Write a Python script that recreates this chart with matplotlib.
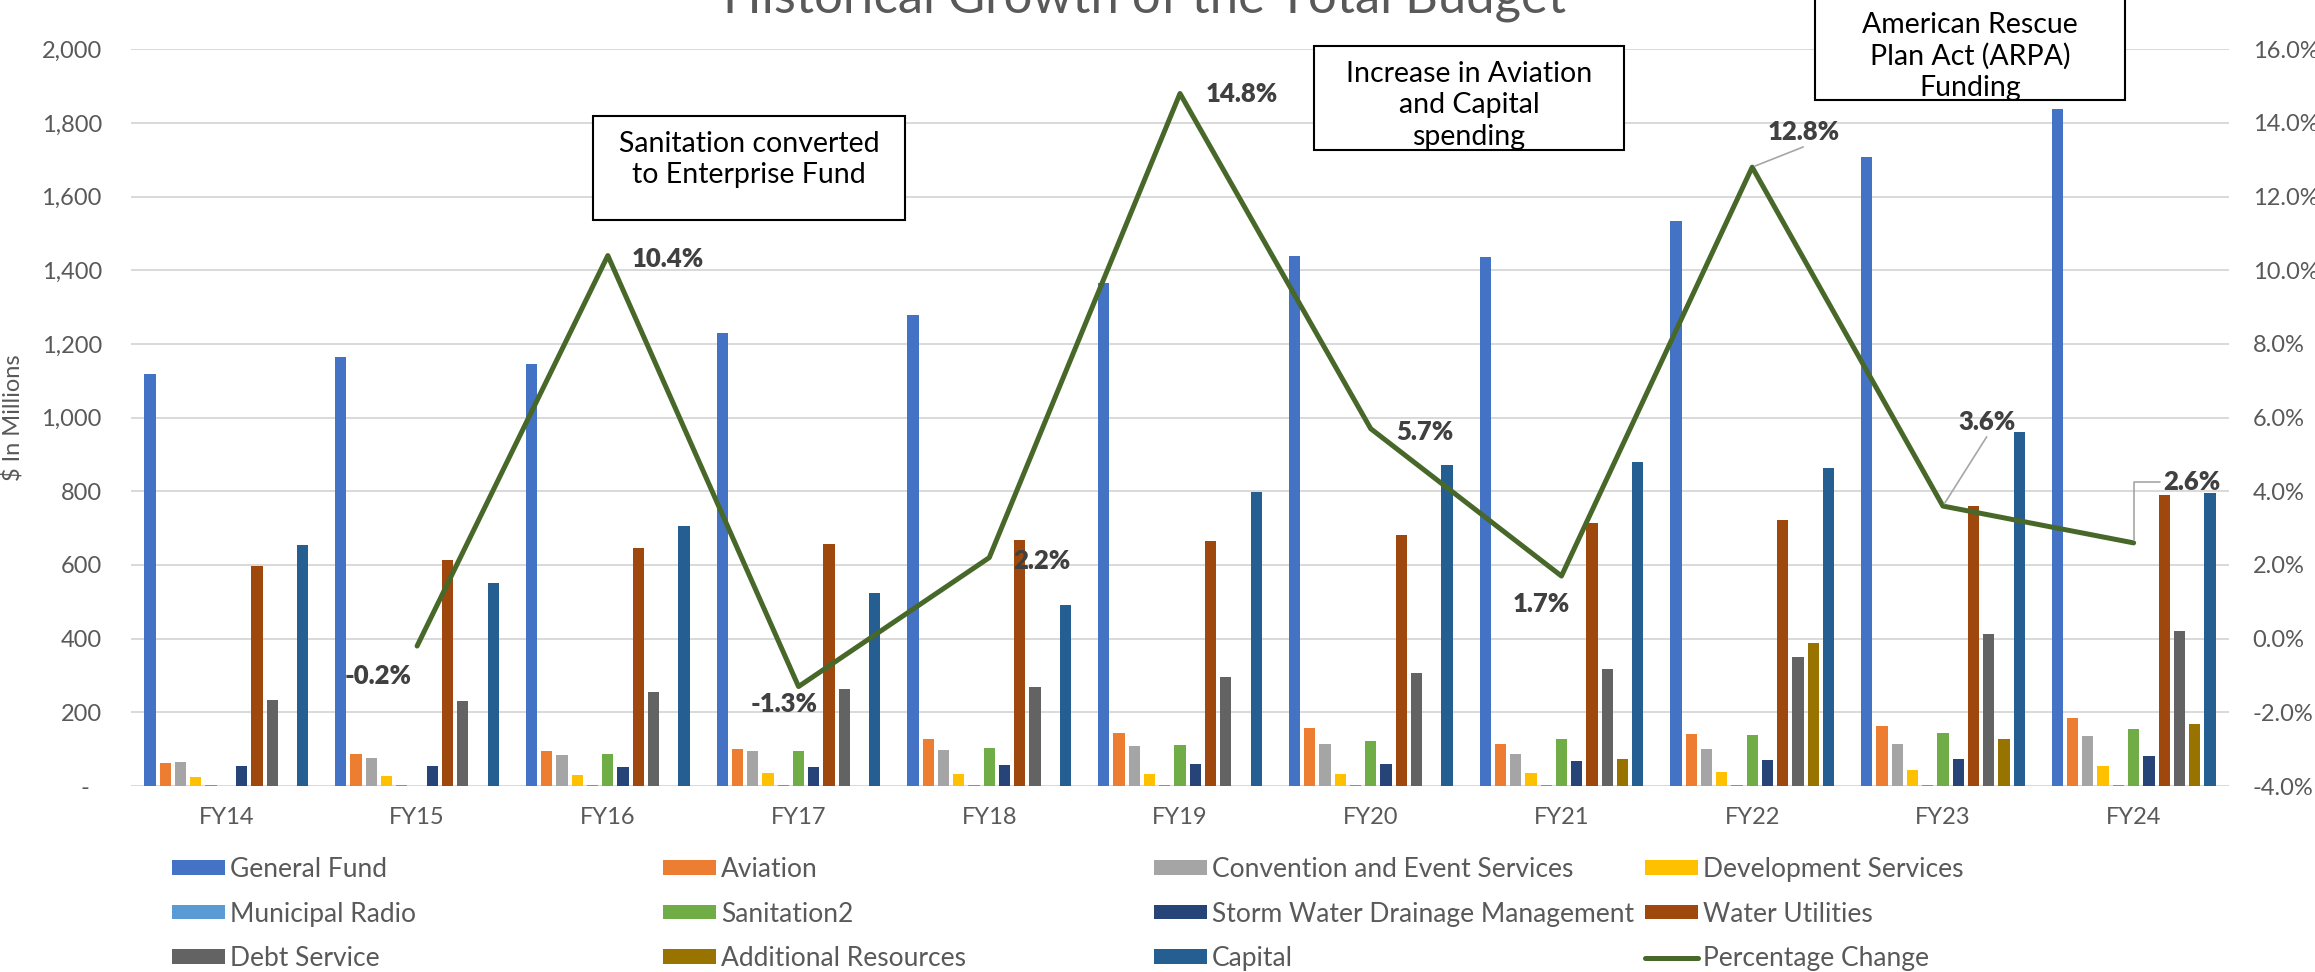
import matplotlib
matplotlib.use("Agg")
import matplotlib.pyplot as plt
from matplotlib.patches import Patch, Rectangle
from matplotlib.lines import Line2D
from matplotlib.ticker import FixedLocator, FuncFormatter

# ---- data ($ in millions) ----
years = ["FY14", "FY15", "FY16", "FY17", "FY18", "FY19", "FY20", "FY21", "FY22", "FY23", "FY24"]
general_fund = [1118, 1166, 1145, 1229, 1279, 1366, 1438, 1437, 1534, 1707, 1838]
aviation = [62, 87, 94, 100, 128, 144, 158, 113, 142, 164, 185]
convention_events = [66, 77, 83, 96, 98, 108, 115, 86, 100, 114, 137]
development_services = [25, 27, 31, 36, 33, 33, 33, 36, 39, 44, 54]
municipal_radio = [2, 2, 2, 2, 2, 2, 2, 2, 2, 2, 2]
sanitation = [0, 0, 87, 96, 102, 112, 122, 128, 139, 144, 154]
storm_water = [55, 54, 52, 52, 56, 59, 61, 67, 70, 73, 81]
water_utilities = [596, 614, 646, 657, 667, 664, 681, 714, 722, 761, 790]
debt_service = [234, 231, 255, 262, 268, 296, 306, 317, 349, 412, 422]
additional_resources = [0, 0, 0, 0, 0, 0, 0, 74, 387, 128, 167]
capital = [654, 550, 705, 525, 491, 798, 872, 880, 863, 960, 796]

pct_years = ["FY15", "FY16", "FY17", "FY18", "FY19", "FY20", "FY21", "FY22", "FY23", "FY24"]
pct_change = [-0.2, 10.4, -1.3, 2.2, 14.8, 5.7, 1.7, 12.8, 3.6, 2.6]

left_ticks = [0, 200, 400, 600, 800, 1000, 1200, 1400, 1600, 1800, 2000]
right_ticks = [-4, -2, 0, 2, 4, 6, 8, 10, 12, 14, 16]

series = [
    ("General Fund", general_fund, "#4472C4"),
    ("Aviation", aviation, "#ED7D31"),
    ("Convention and Event Services", convention_events, "#A5A5A5"),
    ("Development Services", development_services, "#FFC000"),
    ("Municipal Radio", municipal_radio, "#5B9BD5"),
    ("Sanitation2", sanitation, "#70AD47"),
    ("Storm Water Drainage Management", storm_water, "#264478"),
    ("Water Utilities", water_utilities, "#9E480E"),
    ("Debt Service", debt_service, "#636363"),
    ("Additional Resources", additional_resources, "#997300"),
    ("Capital", capital, "#255E91"),
]
LINE_COLOR = "#48682A"
TEXT_GRAY = "#595959"

plt.rcParams["font.family"] = ["Lato", "DejaVu Sans"]

W, H = 2315, 972
fig = plt.figure(figsize=(W / 100, H / 100), dpi=100)
fig.patch.set_facecolor("white")


def fx(px):
    return px / W


def fy(py):
    return 1 - py / H


ax = fig.add_axes([fx(131), fy(786), fx(2229) - fx(131), fy(49.3) - fy(786)])

# ---- clustered bars ----
x = list(range(len(years)))
slot = 1 / 12.5
bar_w = 0.059
n = len(series)
for j, (name, vals, color) in enumerate(series):
    xs = [xi + (j - (n - 1) / 2) * slot for xi in x]
    ax.bar(xs, vals, width=bar_w, color=color, zorder=2, label=name)

ax.set_xlim(-0.5, len(years) - 0.5)
ax.set_ylim(0, 2000)
ax.yaxis.set_major_locator(FixedLocator(left_ticks))
ax.yaxis.set_major_formatter(FuncFormatter(lambda v, p: "-  " if v == 0 else f"{v:,.0f}"))
ax.set_xticks(x)
ax.set_xticklabels(years)
ax.grid(axis="y", color="#D9D9D9", linewidth=1.4, zorder=0)
ax.set_axisbelow(True)
for s in ax.spines.values():
    s.set_visible(False)
ax.tick_params(axis="y", length=0, pad=21, labelsize=17, labelcolor=TEXT_GRAY)
ax.tick_params(axis="x", length=0, pad=15, labelsize=17, labelcolor=TEXT_GRAY)

# ---- percentage change line on the secondary axis ----
ax2 = ax.twinx()
pct_x = [years.index(y) for y in pct_years]
ax2.plot(pct_x, pct_change, color=LINE_COLOR, linewidth=3.6, zorder=5,
         solid_joinstyle="round", solid_capstyle="round")
ax2.set_ylim(-4, 16)
ax2.yaxis.set_major_locator(FixedLocator(right_ticks))
ax2.yaxis.set_major_formatter(FuncFormatter(lambda v, p: f"{v:.1f}%"))
for s in ax2.spines.values():
    s.set_visible(False)
ax2.tick_params(axis="y", length=0, pad=17, labelsize=17, labelcolor=TEXT_GRAY)

# label placement for each point (pixel offsets) and optional leader lines
label_offsets = {
    "FY15": (-39, -30), "FY16": (60, -3), "FY17": (-14, -17), "FY18": (53, -3),
    "FY19": (62, 0), "FY20": (54, -3), "FY21": (-20, -28), "FY22": (52, 35),
    "FY23": (44, 84), "FY24": (58, 61),
}
leaders = {
    "FY22": dict(relpos=(0.5, -0.1), connectionstyle="arc3"),
    "FY23": dict(relpos=(0.5, -0.1), connectionstyle="arc3"),
    "FY24": dict(relpos=(-0.05, 0.5), connectionstyle="angle,angleA=0,angleB=90,rad=0"),
}
for yr, xv, pv in zip(pct_years, pct_x, pct_change):
    kw = {}
    if yr in leaders:
        kw["arrowprops"] = dict(arrowstyle="-", color="#A6A6A6", lw=1.2,
                                shrinkA=0, shrinkB=2, **leaders[yr])
    ax2.annotate(f"{pv:.1f}%", xy=(xv, pv), xytext=label_offsets[yr],
                 textcoords="offset pixels", ha="center", va="center",
                 fontsize=18.5, fontweight="heavy", color="#404040", zorder=6, **kw)

# ---- y axis title ----
fig.text(fx(13.5), fy(418), "$ In Millions", rotation=90, ha="center", va="center",
         fontsize=17, color=TEXT_GRAY)

# ---- chart title ----
fig.text(fx(1145), fy(13), "Historical Growth of the Total Budget", ha="center",
         va="baseline", fontsize=36.5, color=TEXT_GRAY)

# ---- callout boxes ----
callouts = [
    ((593, 116, 905, 220), ["Sanitation converted", "to Enterprise Fund"], 152),
    ((1314, 46, 1624, 150), ["Increase in Aviation", "and Capital", "spending"], 82),
    ((1815, -20, 2125, 100), ["American Rescue", "Plan Act (ARPA)", "Funding"], 33),
]
for (x0, y0, x1, y1), lines, base in callouts:
    fig.add_artist(Rectangle((fx(x0), fy(y1)), fx(x1) - fx(x0), fy(y0) - fy(y1),
                             transform=fig.transFigure, facecolor="white",
                             edgecolor="black", linewidth=1.5, zorder=7))
    cx = (x0 + x1) / 2
    for k, t in enumerate(lines):
        fig.text(fx(cx), fy(base + 31.5 * k), t, ha="center", va="baseline",
                 fontsize=20.5, color="black", zorder=8)

# ---- legend: four columns of three entries ----
handles = [Patch(facecolor=c, edgecolor="none") for _, _, c in series]
handles.append(Line2D([], [], color=LINE_COLOR, linewidth=3.6, solid_capstyle="round"))
labels = [s[0] for s in series] + ["Percentage Change"]
col_x = [172, 663, 1154, 1645]
for c in range(4):
    idx = [c, c + 4, c + 8]
    leg = fig.legend([handles[i] for i in idx], [labels[i] for i in idx],
                     loc="center left", bbox_to_anchor=(fx(col_x[c]), fy(914)),
                     frameon=False, fontsize=19, handlelength=2.0, handleheight=0.48,
                     handletextpad=0.2, labelspacing=0.74, borderpad=0,
                     borderaxespad=0)
    for t in leg.get_texts():
        t.set_color(TEXT_GRAY)

fig.savefig("out.png", dpi=100, facecolor="white")
